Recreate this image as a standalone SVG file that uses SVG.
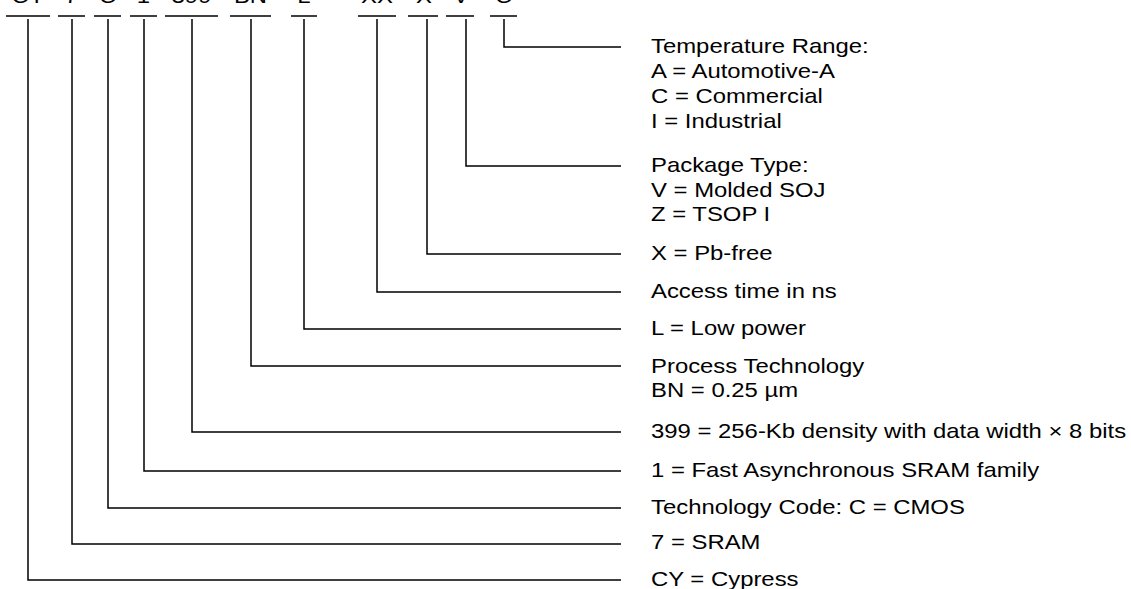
<svg xmlns="http://www.w3.org/2000/svg" width="1131" height="589" viewBox="0 0 1131 589">
<style>
text{font-family:"Liberation Sans",Arial,sans-serif;font-size:20.5px;fill:#000}
.code{text-anchor:middle}
.bar,.ld{stroke:#000;stroke-width:1.5;fill:none}
</style>
<rect width="1131" height="589" fill="#fff"/>
<g id="code">
<text class="code" transform="translate(28 3) scale(1.165 1)">CY</text>
<text class="code" transform="translate(71.5 3) scale(1.165 1)">7</text>
<text class="code" transform="translate(107.5 3) scale(1.165 1)">C</text>
<text class="code" transform="translate(143.5 3) scale(1.165 1)">1</text>
<text class="code" transform="translate(191.5 3) scale(1.165 1)">399</text>
<text class="code" transform="translate(250.5 3) scale(1.165 1)">BN</text>
<text class="code" transform="translate(304 3) scale(1.165 1)">L</text>
<text class="code" transform="translate(377 3) scale(1.165 1)">XX</text>
<text class="code" transform="translate(424 3) scale(1.165 1)">X</text>
<text class="code" transform="translate(461 3) scale(1.165 1)">V</text>
<text class="code" transform="translate(503.5 3) scale(1.165 1)">C</text>
<path class="bar" d="M6 16H50M58 16H85M94 16H121M130 16H157M165 16H218M230 16H271M291 16H317M358 16H396M408 16H438M446 16H474M490 16H517"/>
</g>
<g id="connectors">
<path class="ld" d="M504 19V47H621"/>
<path class="ld" d="M466 19V166H621"/>
<path class="ld" d="M427 19V254H621"/>
<path class="ld" d="M377 19V292H621"/>
<path class="ld" d="M304 19V329H621"/>
<path class="ld" d="M251 19V366H621"/>
<path class="ld" d="M192 19V432H621"/>
<path class="ld" d="M144 19V471H621"/>
<path class="ld" d="M108 19V508H621"/>
<path class="ld" d="M72 19V544H621"/>
<path class="ld" d="M28 19V580H621"/>
</g>
<g id="temp" transform="translate(651 0) scale(1.165 1)"><text x="0" y="53">Temperature Range:</text><text x="0" y="78">A = Automotive-A</text><text x="0" y="103">C = Commercial</text><text x="0" y="128">I = Industrial</text></g>
<g id="package" transform="translate(651 0) scale(1.165 1)"><text x="0" y="172.5">Package Type:</text><text x="0" y="197">V = Molded SOJ</text><text x="0" y="221.5">Z = TSOP I</text></g>
<g id="pbfree" transform="translate(651 0) scale(1.165 1)"><text x="0" y="260.5">X = Pb-free</text></g>
<g id="access" transform="translate(651 0) scale(1.165 1)"><text x="0" y="298">Access time in ns</text></g>
<g id="lowpower" transform="translate(651 0) scale(1.165 1)"><text x="0" y="335.5">L = Low power</text></g>
<g id="process" transform="translate(651 0) scale(1.165 1)"><text x="0" y="373">Process Technology</text><text x="0" y="397.5">BN = 0.25 µm</text></g>
<g id="density" transform="translate(651 0) scale(1.165 1)"><text x="0" y="438">399 = 256-Kb density with data width × 8 bits</text></g>
<g id="family" transform="translate(651 0) scale(1.165 1)"><text x="0" y="477">1 = Fast Asynchronous SRAM family</text></g>
<g id="tech" transform="translate(651 0) scale(1.165 1)"><text x="0" y="514">Technology Code: C = CMOS</text></g>
<g id="sram" transform="translate(651 0) scale(1.165 1)"><text x="0" y="549.5">7 = SRAM</text></g>
<g id="cypress" transform="translate(651 0) scale(1.165 1)"><text x="0" y="586">CY = Cypress</text></g>
</svg>
